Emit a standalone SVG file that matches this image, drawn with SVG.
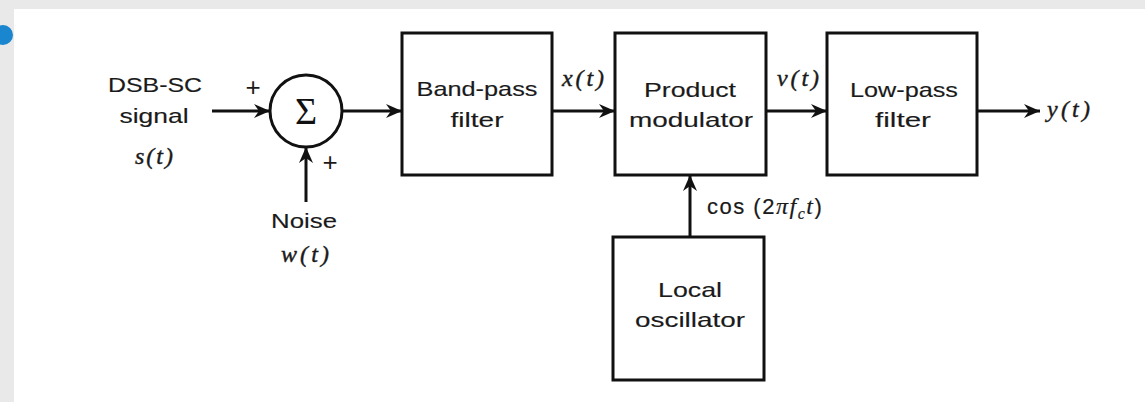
<svg xmlns="http://www.w3.org/2000/svg" width="1145" height="402" viewBox="0 0 1145 402">
<style>
.box{fill:#fff;stroke:#111;stroke-width:3}
.ln{fill:none;stroke:#111;stroke-width:3}
.t{font-family:"Liberation Sans",Arial,sans-serif;font-size:21px;fill:#1a1a1a;stroke:#1a1a1a;stroke-width:0.15;text-anchor:middle}
.m{font-family:"Liberation Serif","Times New Roman",serif;font-style:italic;font-size:24px;fill:#1a1a1a;stroke:#1a1a1a;stroke-width:0.4}
.p{font-family:"Liberation Sans",Arial,sans-serif;font-size:26px;fill:#1a1a1a;text-anchor:middle}
</style>
<defs>
<marker id="ah" markerUnits="userSpaceOnUse" markerWidth="20" markerHeight="20" refX="17" refY="9" orient="auto">
<path d="M17,9 L1,2 L6,9 L1,16 Z" fill="#111"/>
</marker>
</defs>
<rect x="0" y="0" width="1145" height="402" fill="#e9e9e9"/>
<rect x="14" y="9" width="1131" height="393" fill="#fff"/>
<circle cx="3" cy="35" r="10" fill="#1a86cf"/>

<g id="input-label">
<text class="t" x="155" y="92" textLength="94" lengthAdjust="spacingAndGlyphs">DSB-SC</text>
<text class="t" x="154" y="123" textLength="69" lengthAdjust="spacingAndGlyphs">signal</text>
<text class="m" x="154" y="164" text-anchor="middle" textLength="38" lengthAdjust="spacing">s(t)</text>
</g>

<g id="summer">
<circle cx="306" cy="111" r="36" class="box"/>
<text x="306" y="124" text-anchor="middle" font-family="Liberation Serif,serif" font-size="38" fill="#111">Σ</text>
<text class="p" x="253" y="96">+</text>
<text class="p" x="330" y="171">+</text>
</g>

<g id="noise-label">
<text class="t" x="304" y="228" textLength="66" lengthAdjust="spacingAndGlyphs">Noise</text>
<text class="m" x="305" y="262" text-anchor="middle" textLength="48" lengthAdjust="spacing">w(t)</text>
</g>

<g id="bandpass">
<rect class="box" x="402" y="33" width="150" height="142"/>
<text class="t" x="477" y="96" textLength="121" lengthAdjust="spacingAndGlyphs">Band-pass</text>
<text class="t" x="477" y="127" textLength="53" lengthAdjust="spacingAndGlyphs">filter</text>
</g>

<g id="product">
<rect class="box" x="615" y="33" width="151" height="142"/>
<text class="t" x="690" y="97" textLength="92" lengthAdjust="spacingAndGlyphs">Product</text>
<text class="t" x="691" y="127" textLength="124" lengthAdjust="spacingAndGlyphs">modulator</text>
</g>

<g id="lowpass">
<rect class="box" x="827" y="33" width="150" height="142"/>
<text class="t" x="904" y="97" textLength="108" lengthAdjust="spacingAndGlyphs">Low-pass</text>
<text class="t" x="903" y="127" textLength="56" lengthAdjust="spacingAndGlyphs">filter</text>
</g>

<g id="oscillator">
<rect class="box" x="613" y="237" width="151" height="143"/>
<text class="t" x="690" y="297" textLength="64" lengthAdjust="spacingAndGlyphs">Local</text>
<text class="t" x="690" y="327" textLength="110" lengthAdjust="spacingAndGlyphs">oscillator</text>
</g>

<g id="connectors">
<line class="ln" x1="212" y1="111" x2="270" y2="111" marker-end="url(#ah)"/>
<line class="ln" x1="306" y1="202" x2="306" y2="147" marker-end="url(#ah)"/>
<line class="ln" x1="342" y1="111" x2="402" y2="111" marker-end="url(#ah)"/>
<line class="ln" x1="552" y1="111" x2="615" y2="111" marker-end="url(#ah)"/>
<line class="ln" x1="766" y1="111" x2="827" y2="111" marker-end="url(#ah)"/>
<line class="ln" x1="977" y1="111" x2="1040" y2="111" marker-end="url(#ah)"/>
<line class="ln" x1="690" y1="237" x2="690" y2="175" marker-end="url(#ah)"/>
</g>

<g id="signal-labels">
<text class="m" x="583" y="86" text-anchor="middle" textLength="42" lengthAdjust="spacing">x(t)</text>
<text class="m" x="798" y="86" text-anchor="middle" textLength="42" lengthAdjust="spacing">v(t)</text>
<text class="m" x="1047" y="117" textLength="43" lengthAdjust="spacing">y(t)</text>
<text x="707" y="214" font-family="Liberation Sans,Arial,sans-serif" font-size="22" letter-spacing="1.5" fill="#1a1a1a" stroke="#1a1a1a" stroke-width="0.2">cos (2<tspan font-family="Liberation Serif,serif" font-style="italic" font-size="24">πf</tspan><tspan font-family="Liberation Serif,serif" font-style="italic" font-size="16" dy="5">c</tspan><tspan font-family="Liberation Serif,serif" font-style="italic" font-size="24" dy="-5">t</tspan>)</text>
</g>
</svg>
